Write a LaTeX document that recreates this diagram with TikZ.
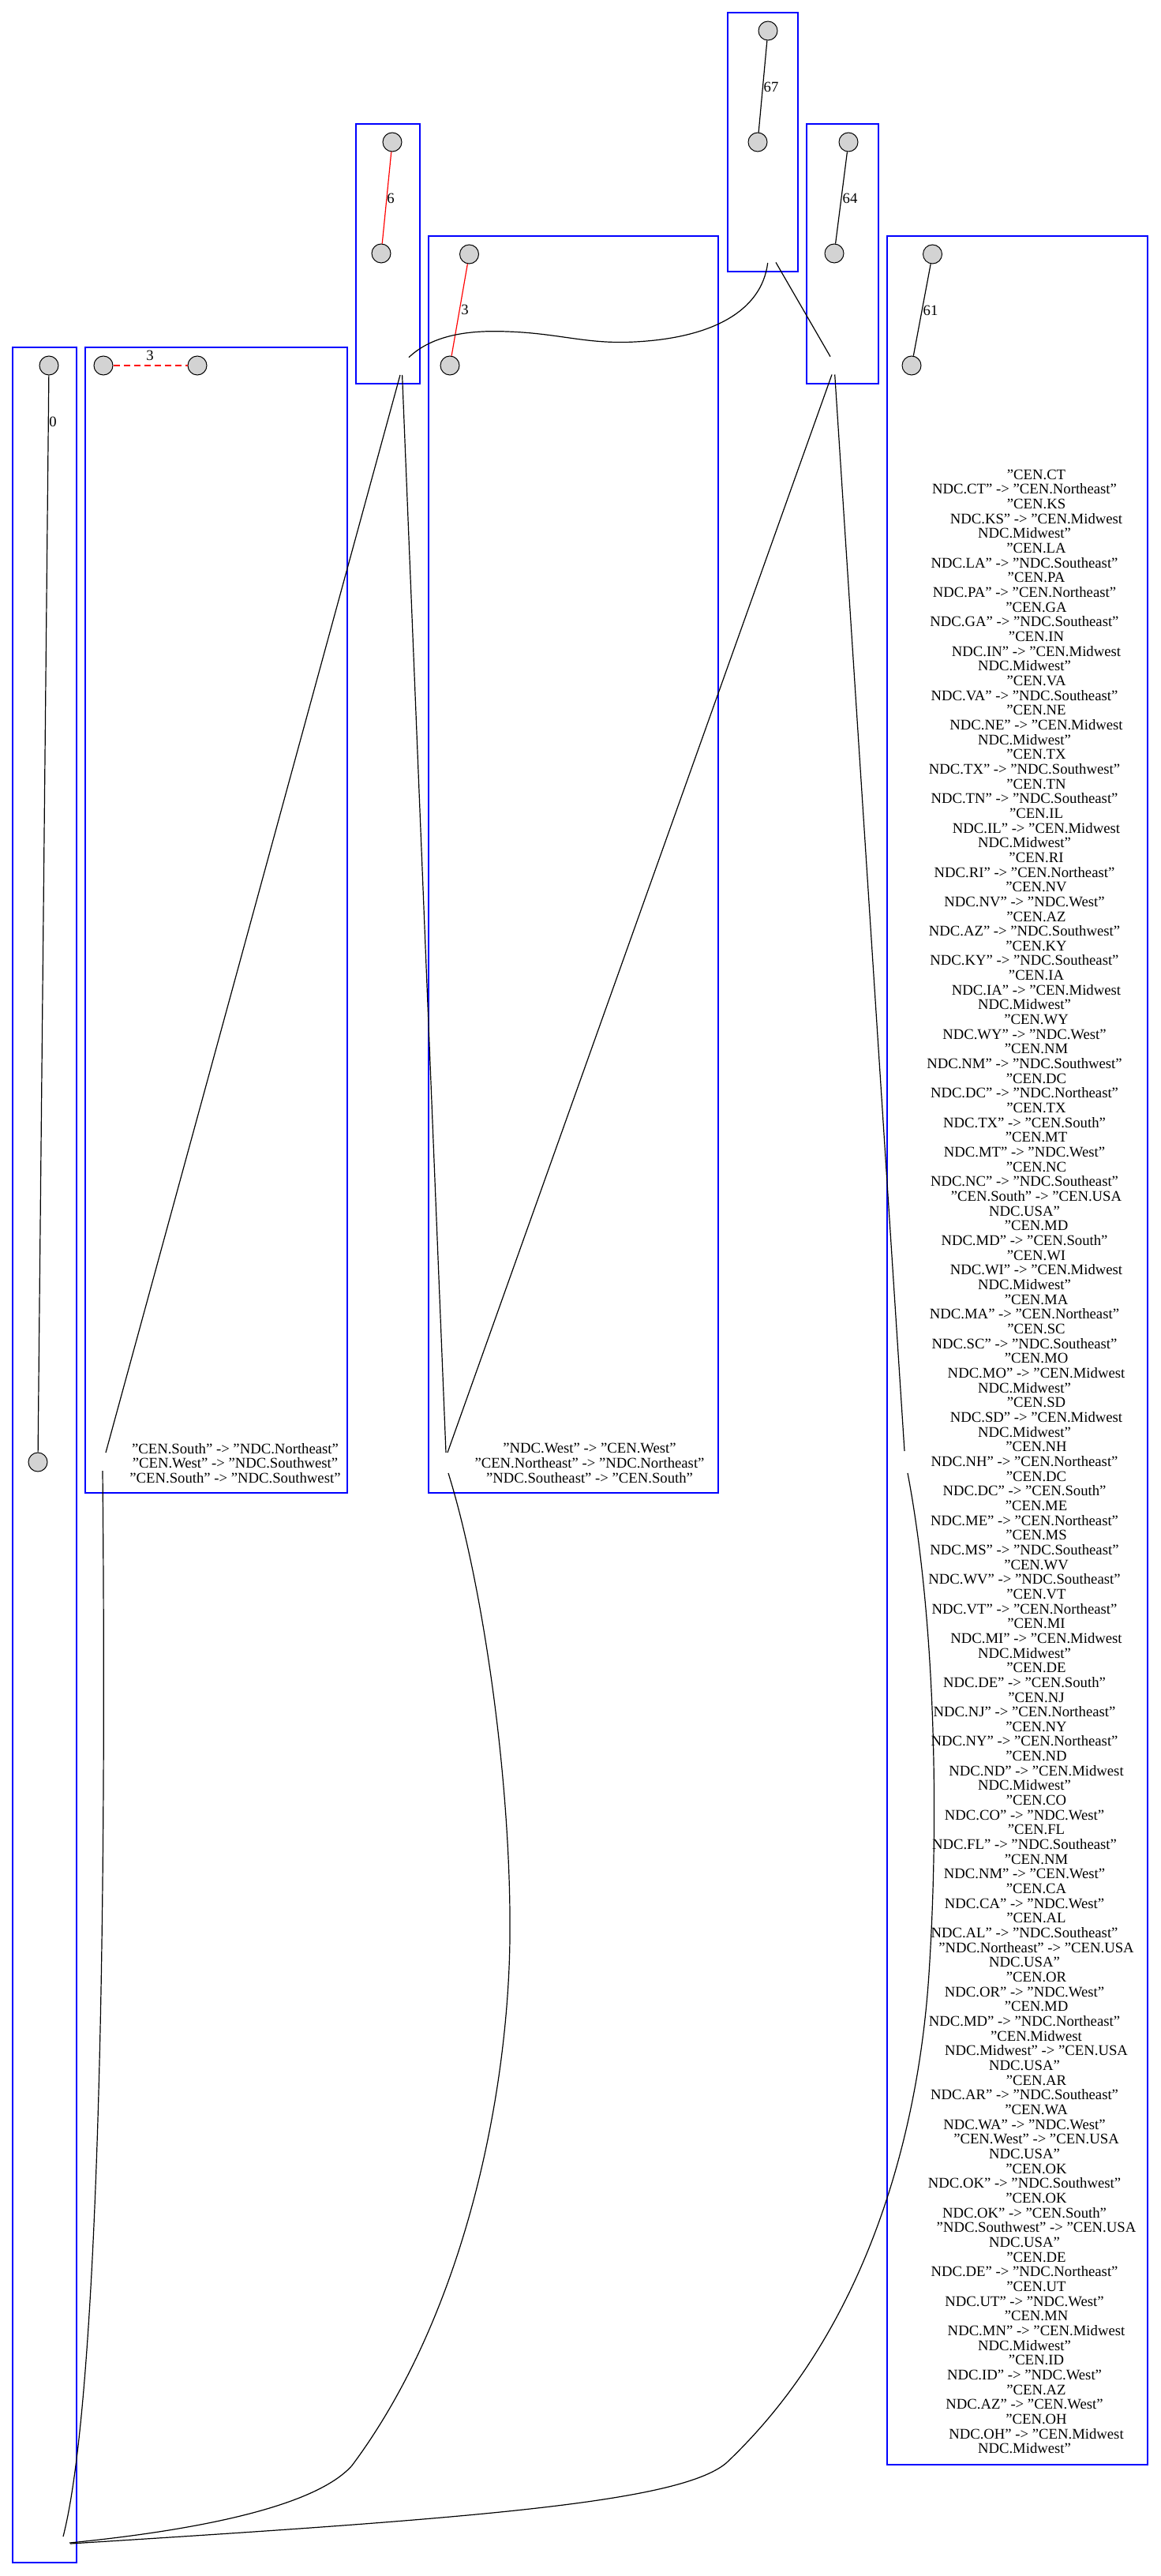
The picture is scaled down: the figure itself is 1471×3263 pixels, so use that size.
\documentclass[tikz,border=0pt]{standalone}
\usepackage{fontspec}
\setmainfont{Liberation Serif}
\definecolor{nodegray}{HTML}{D3D3D3}
\tikzset{
  cluster/.style={draw=blue, line width=0.7pt},
  vnode/.style={circle, draw=black, fill=nodegray, line width=0.5pt, minimum size=12pt, inner sep=0pt},
  lbl/.style={font=\fontsize{9.35pt}{9.35pt}\selectfont, inner sep=0pt},
  txt/.style={align=center, font=\fontsize{9.35pt}{9.33pt}\selectfont, inner sep=0pt},
  txtline/.style={font=\fontsize{9.35pt}{9.35pt}\selectfont, inner sep=0pt, anchor=base},
  link/.style={draw=black, line width=0.6pt},
  redlink/.style={draw=red, line width=0.6pt}
}
\begin{document}
\begin{tikzpicture}[x=0.5pt,y=-0.5pt]
\useasboundingbox (0,0) rectangle (1471,3263);

% clusters
\draw[cluster] (922,16) rectangle (1011,344);
\draw[cluster] (451,157) rectangle (532,486);
\draw[cluster] (1022,157) rectangle (1113,486);
\draw[cluster] (543,299) rectangle (910,1891);
\draw[cluster] (1124,299) rectangle (1454,3122);
\draw[cluster] (16,440) rectangle (97,3246);
\draw[cluster] (108,440) rectangle (440,1891);

% nodes
\node[vnode] (n67a) at (973,39) {};
\node[vnode] (n67b) at (960,180) {};
\node[vnode] (n6a) at (497,180) {};
\node[vnode] (n6b) at (483,321) {};
\node[vnode] (n64a) at (1075,180) {};
\node[vnode] (n64b) at (1057,321) {};
\node[vnode] (n3a) at (594.5,322) {};
\node[vnode] (n3b) at (570,463) {};
\node[vnode] (n61a) at (1181.5,322) {};
\node[vnode] (n61b) at (1155,463) {};
\node[vnode] (n0a) at (62,463) {};
\node[vnode] (n0b) at (48,1852) {};
\node[vnode] (n3la) at (131,463) {};
\node[vnode] (n3lb) at (250,463) {};

% internal edges
\draw[link] (n67a) -- (n67b);
\draw[redlink] (n6a) -- (n6b);
\draw[link] (n64a) -- (n64b);
\draw[redlink] (n3a) -- (n3b);
\draw[link] (n61a) -- (n61b);
\draw[link] (n0a) -- (n0b);
\draw[redlink, dash pattern=on 4pt off 2.5pt] (n3la) -- (n3lb);

% edge labels
\node[lbl] (l67) at (977,110) {67};
\node[lbl] (l6) at (495,251) {6};
\node[lbl] (l64) at (1077,251) {64};
\node[lbl] (l3) at (589,392) {3};
\node[lbl] (l61) at (1179,393) {61};
\node[lbl] (l0) at (67,534) {0};
\node[lbl] (l3l) at (190,450) {3};

% text blocks
\node[txt] (t3l) at (298,1853.5) {"CEN.South" -> "NDC.Northeast"\\ "CEN.West" -> "NDC.Southwest"\\ "CEN.South" -> "NDC.Southwest"};
\node[txt] (t3m) at (747,1853.5) {"NDC.West" -> "CEN.West"\\ "CEN.Northeast" -> "NDC.Northeast"\\ "NDC.Southeast" -> "CEN.South"};

\foreach \lx/\lw [count=\li] in {
1313/"CEN.CT,
1298/NDC.CT" -> "CEN.Northeast",
1313/"CEN.KS,
1313/NDC.KS" -> "CEN.Midwest,
1298/NDC.Midwest",
1313/"CEN.LA,
1298/NDC.LA" -> "NDC.Southeast",
1313/"CEN.PA,
1298/NDC.PA" -> "CEN.Northeast",
1313/"CEN.GA,
1298/NDC.GA" -> "NDC.Southeast",
1313/"CEN.IN,
1313/NDC.IN" -> "CEN.Midwest,
1298/NDC.Midwest",
1313/"CEN.VA,
1298/NDC.VA" -> "NDC.Southeast",
1313/"CEN.NE,
1313/NDC.NE" -> "CEN.Midwest,
1298/NDC.Midwest",
1313/"CEN.TX,
1298/NDC.TX" -> "NDC.Southwest",
1313/"CEN.TN,
1298/NDC.TN" -> "NDC.Southeast",
1313/"CEN.IL,
1313/NDC.IL" -> "CEN.Midwest,
1298/NDC.Midwest",
1313/"CEN.RI,
1298/NDC.RI" -> "CEN.Northeast",
1313/"CEN.NV,
1298/NDC.NV" -> "NDC.West",
1313/"CEN.AZ,
1298/NDC.AZ" -> "NDC.Southwest",
1313/"CEN.KY,
1298/NDC.KY" -> "NDC.Southeast",
1313/"CEN.IA,
1313/NDC.IA" -> "CEN.Midwest,
1298/NDC.Midwest",
1313/"CEN.WY,
1298/NDC.WY" -> "NDC.West",
1313/"CEN.NM,
1298/NDC.NM" -> "NDC.Southwest",
1313/"CEN.DC,
1298/NDC.DC" -> "NDC.Northeast",
1313/"CEN.TX,
1298/NDC.TX" -> "CEN.South",
1313/"CEN.MT,
1298/NDC.MT" -> "NDC.West",
1313/"CEN.NC,
1298/NDC.NC" -> "NDC.Southeast",
1313/"CEN.South" -> "CEN.USA,
1298/NDC.USA",
1313/"CEN.MD,
1298/NDC.MD" -> "CEN.South",
1313/"CEN.WI,
1313/NDC.WI" -> "CEN.Midwest,
1298/NDC.Midwest",
1313/"CEN.MA,
1298/NDC.MA" -> "CEN.Northeast",
1313/"CEN.SC,
1298/NDC.SC" -> "NDC.Southeast",
1313/"CEN.MO,
1313/NDC.MO" -> "CEN.Midwest,
1298/NDC.Midwest",
1313/"CEN.SD,
1313/NDC.SD" -> "CEN.Midwest,
1298/NDC.Midwest",
1313/"CEN.NH,
1298/NDC.NH" -> "CEN.Northeast",
1313/"CEN.DC,
1298/NDC.DC" -> "CEN.South",
1313/"CEN.ME,
1298/NDC.ME" -> "CEN.Northeast",
1313/"CEN.MS,
1298/NDC.MS" -> "NDC.Southeast",
1313/"CEN.WV,
1298/NDC.WV" -> "NDC.Southeast",
1313/"CEN.VT,
1298/NDC.VT" -> "CEN.Northeast",
1313/"CEN.MI,
1313/NDC.MI" -> "CEN.Midwest,
1298/NDC.Midwest",
1313/"CEN.DE,
1298/NDC.DE" -> "CEN.South",
1313/"CEN.NJ,
1298/NDC.NJ" -> "CEN.Northeast",
1313/"CEN.NY,
1298/NDC.NY" -> "CEN.Northeast",
1313/"CEN.ND,
1313/NDC.ND" -> "CEN.Midwest,
1298/NDC.Midwest",
1313/"CEN.CO,
1298/NDC.CO" -> "NDC.West",
1313/"CEN.FL,
1298/NDC.FL" -> "NDC.Southeast",
1313/"CEN.NM,
1298/NDC.NM" -> "CEN.West",
1313/"CEN.CA,
1298/NDC.CA" -> "NDC.West",
1313/"CEN.AL,
1298/NDC.AL" -> "NDC.Southeast",
1313/"NDC.Northeast" -> "CEN.USA,
1298/NDC.USA",
1313/"CEN.OR,
1298/NDC.OR" -> "NDC.West",
1313/"CEN.MD,
1298/NDC.MD" -> "NDC.Northeast",
1313/"CEN.Midwest,
1313/NDC.Midwest" -> "CEN.USA,
1298/NDC.USA",
1313/"CEN.AR,
1298/NDC.AR" -> "NDC.Southeast",
1313/"CEN.WA,
1298/NDC.WA" -> "NDC.West",
1313/"CEN.West" -> "CEN.USA,
1298/NDC.USA",
1313/"CEN.OK,
1298/NDC.OK" -> "NDC.Southwest",
1313/"CEN.OK,
1298/NDC.OK" -> "CEN.South",
1313/"NDC.Southwest" -> "CEN.USA,
1298/NDC.USA",
1313/"CEN.DE,
1298/NDC.DE" -> "NDC.Northeast",
1313/"CEN.UT,
1298/NDC.UT" -> "NDC.West",
1313/"CEN.MN,
1313/NDC.MN" -> "CEN.Midwest,
1298/NDC.Midwest",
1313/"CEN.ID,
1298/NDC.ID" -> "NDC.West",
1313/"CEN.AZ,
1298/NDC.AZ" -> "CEN.West",
1313/"CEN.OH,
1313/NDC.OH" -> "CEN.Midwest,
1298/NDC.Midwest"}
{
  \pgfmathsetmacro\ly{607.2+(\li-1)*18.66}
  \node[txtline] (t61-\li) at (\lx,\ly) {\lw};
}

% free connector ends
\coordinate (w1s) at (518,452.7);
\coordinate (w1e) at (972.7,333);
\coordinate (l2s) at (983,332.4);
\coordinate (l2e) at (1052,451.7);
\coordinate (l3s) at (507,475);
\coordinate (l3e) at (134,1840);
\coordinate (l4s) at (509.6,475);
\coordinate (l4e) at (565,1840);
\coordinate (l5s) at (1054,474.5);
\coordinate (l5e) at (567,1840);
\coordinate (l6s) at (1057.7,474.5);
\coordinate (l6e) at (1146,1838);
\coordinate (cas) at (130,1863);
\coordinate (cae) at (80,3213);
\coordinate (cbs) at (568,1866);
\coordinate (cbe) at (88,3221);
\coordinate (ccs) at (1150,1866);
\coordinate (cce) at (89,3222);

% connectors between clusters
\draw[link] (w1s) .. controls (548,424) and (595,418) .. (642.5,420)
  .. controls (705,422) and (740,435) .. (795.5,433.4)
  .. controls (900,430) and (965,395) .. (w1e);
\draw[link] (l2s) -- (l2e);
\draw[link] (l3s) -- (l3e);
\draw[link] (l4s) -- (l4e);
\draw[link] (l5s) -- (l5e);
\draw[link] (l6s) -- (l6e);
\draw[link] (cas) .. controls (136,2500) and (122,3050) .. (cae);
\draw[link] (cbs) .. controls (610,2000) and (648,2250) .. (646,2455)
  .. controls (644,2650) and (590,2930) .. (446,3123)
  .. controls (400,3175) and (250,3205) .. (cbe);
\draw[link] (ccs) .. controls (1185,2050) and (1190,2300) .. (1177,2500)
  .. controls (1164,2700) and (1100,2950) .. (920,3120)
  .. controls (860,3170) and (600,3190) .. (cce);
\end{tikzpicture}
\end{document}
